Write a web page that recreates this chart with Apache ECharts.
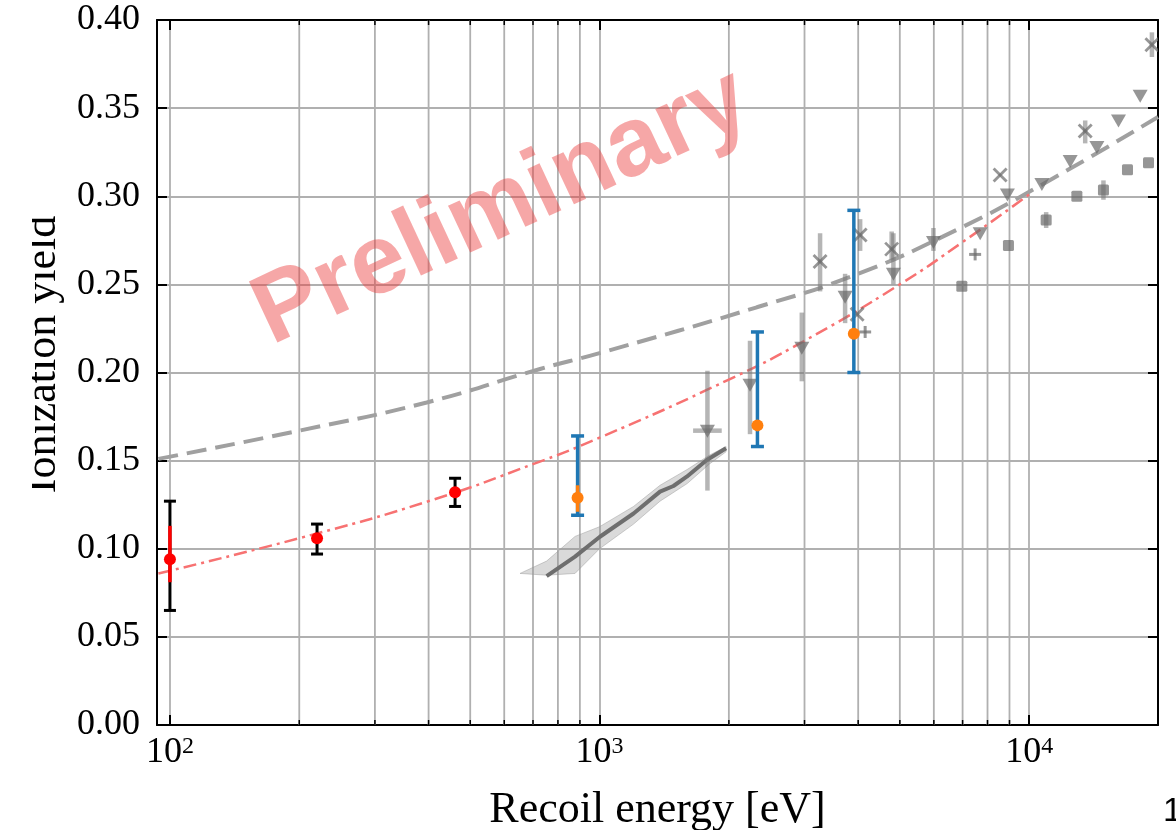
<!DOCTYPE html>
<html>
<head>
<meta charset="utf-8">
<title>Ionization yield</title>
<script src="https://cdn.jsdelivr.net/npm/echarts@6/dist/echarts.min.js"></script>
<style>
    html, body {margin: 0; padding: 0; background: #fff;}
    #echartdiv {width: 1176px; height: 830px;}
</style>
</head>
<body>
<div id="echartdiv"></div>
<script>
// axis range
var xMin = 93.3;
var xMax = 19950;
var minorTicks = [200, 300, 400, 500, 600, 700, 800, 900, 2000, 3000, 4000, 5000, 6000, 7000, 8000, 9000];

// this work, red points (black = total error, red = stat)
var redE = [100, 220, 461];
var redY = [0.094, 0.106, 0.132];
var redLo = [0.065, 0.097, 0.124];
var redHi = [0.127, 0.114, 0.140];
var redInE = [100];
var redInLo = [0.081];
var redInHi = [0.113];

// orange points, blue errors
var orgE = [889, 2331, 3908];
var orgY = [0.129, 0.170, 0.222];
var blueLo = [0.119, 0.158, 0.200];
var blueHi = [0.164, 0.223, 0.292];
var orgInE = [889];
var orgInLo = [0.121];
var orgInHi = [0.136];

// red dash-dot fit
var fitE = [94, 200, 400, 700, 1000, 2000, 3000, 5000, 7000, 10000];
var fitY = [0.086, 0.106, 0.127, 0.148, 0.163, 0.196, 0.218, 0.250, 0.274, 0.301];

// gray dashed model
var dashE = [94, 200, 396, 727, 1000, 2323, 4000, 6788, 10607, 19950];
var dashY = [0.151, 0.167, 0.183, 0.202, 0.211, 0.237, 0.256, 0.281, 0.306, 0.345];

// dark gray curve with band
var lineE = [753, 877, 1002, 1200, 1383, 1486, 1596, 1777, 1970];
var lineY = [0.0845, 0.0955, 0.1068, 0.120, 0.1324, 0.1356, 0.1409, 0.1504, 0.157];
var bandE = [653, 753, 877, 1000, 1200, 1383, 1600, 1800, 1970];
var bandLo = [0.086, 0.085, 0.086, 0.100, 0.114, 0.127, 0.137, 0.148, 0.155];
var bandHi = [0.086, 0.093, 0.107, 0.1125, 0.124, 0.136, 0.145, 0.153, 0.158];

// other measurements (gray)
var triE = [1783, 2240, 2957, 3729, 4831, 5988, 7692, 8900, 10706, 12460, 14378, 16143, 18132];
var triY = [0.167, 0.193, 0.214, 0.243, 0.256, 0.274, 0.279, 0.301, 0.307, 0.320, 0.328, 0.343, 0.357];
var triLo = [0.133, 0.165, 0.195, 0.228, 0.250, 0.269, null, null, null, null, null, null, null];
var triHi = [0.201, 0.218, 0.234, 0.256, 0.279, 0.282, null, null, null, null, null, null, null];
var triXLo = [1651];
var triXHi = [1925];

var crossE = [3261, 3977, 4042, 4786, 8560, 13504, 19310];
var crossY = [0.263, 0.233, 0.278, 0.270, 0.312, 0.337, 0.386];
var crossLo = [0.246, null, 0.269, 0.264, null, 0.330, 0.379];
var crossHi = [0.279, null, 0.287, 0.280, null, 0.343, 0.393];

var plusE = [4152, 7486];
var plusY = [0.223, 0.267];

var sqE = [6971, 8950, 10955, 12915, 14893, 16940, 18960];
var sqY = [0.249, 0.272, 0.2865, 0.300, 0.3035, 0.315, 0.319];
var sqLo = [null, null, 0.282, null, 0.298, null, null];
var sqHi = [null, null, 0.291, null, 0.309, null, null];

var serif = 'Liberation Serif';
var grayMk = 'rgba(105,105,105,0.7)';
var grayBar = 'rgba(120,120,120,0.55)';

function zip(a, b, c, d) {
    var out = [];
    for (var i = 0; i < a.length; i++) {
        var row = [a[i], b[i]];
        if (c) row.push(c[i]);
        if (d) row.push(d[i]);
        out.push(row);
    }
    return out;
}

function zipErr(e, lo, hi) {
    var out = [];
    for (var i = 0; i < e.length; i++) {
        if (lo[i] != null) out.push([e[i], lo[i], hi[i]]);
    }
    return out;
}

function seg(x1, y1, x2, y2, color, width) {
    return {type: 'line', shape: {x1: x1, y1: y1, x2: x2, y2: y2}, style: {stroke: color, lineWidth: width}};
}

function errBar(color, width, cap) {
    return function (params, api) {
        var a = api.coord([api.value(0), api.value(1)]);
        var b = api.coord([api.value(0), api.value(2)]);
        var kids = [seg(a[0], a[1], b[0], b[1], color, width)];
        if (cap > 0) {
            kids.push(seg(a[0] - cap / 2, a[1], a[0] + cap / 2, a[1], color, width));
            kids.push(seg(b[0] - cap / 2, b[1], b[0] + cap / 2, b[1], color, width));
        }
        return {type: 'group', children: kids};
    };
}

function grayMark(kind) {
    return function (params, api) {
        var p = api.coord([api.value(0), api.value(1)]);
        var x = p[0], y = p[1];
        if (kind == 'tri') {
            return {type: 'polygon', shape: {points: [[x - 7.5, y - 6], [x + 7.5, y - 6], [x, y + 7]]}, style: {fill: grayMk}};
        }
        if (kind == 'sq') {
            return {type: 'rect', shape: {x: x - 5.5, y: y - 5.5, width: 11, height: 11, r: 1.5}, style: {fill: grayMk}};
        }
        if (kind == 'cross') {
            return {type: 'group', children: [
                seg(x - 6.5, y - 6.5, x + 6.5, y + 6.5, grayMk, 2.8),
                seg(x - 6.5, y + 6.5, x + 6.5, y - 6.5, grayMk, 2.8)
            ]};
        }
        return {type: 'group', children: [
            seg(x - 6, y, x + 6, y, grayMk, 3),
            seg(x, y - 6, x, y + 6, grayMk, 3)
        ]};
    };
}

function customSeries(name, data, render, z) {
    return {
        name: name,
        type: 'custom',
        data: data,
        encode: {x: 0, y: 1},
        renderItem: render,
        clip: true,
        silent: true,
        z: z
    };
}

var dom = document.getElementById("echartdiv");
var myChart = echarts.init(dom);

var option = {
    animation: false,
    backgroundColor: '#fff',
    grid: {left: 157, right: 18, top: 20, bottom: 105, containLabel: false, outerBoundsMode: 'none'},
    xAxis: [
        {
            type: 'log',
            logBase: 10,
            min: xMin,
            max: xMax,
            name: 'Recoil energy [eV]',
            nameLocation: 'middle',
            nameGap: 63,
            nameTextStyle: {fontFamily: serif, fontSize: 44, color: '#000'},
            axisLine: {onZero: false, lineStyle: {color: '#000', width: 2}},
            axisTick: {inside: true, length: 10, lineStyle: {color: '#000', width: 2}},
            splitLine: {show: true, lineStyle: {color: '#b0b0b0', width: 1.8}},
            axisLabel: {
                margin: 10,
                showMinLabel: false,
                showMaxLabel: false,
                formatter: function (v) {
                    var p = Math.round(Math.log10(v));
                    if (Math.abs(Math.log10(v) - p) > 0.01) return '';
                    return '{b|10}{s|' + p + '}';
                },
                rich: {
                    b: {fontFamily: serif, fontSize: 36, color: '#000', verticalAlign: 'bottom'},
                    s: {fontFamily: serif, fontSize: 24, color: '#000', verticalAlign: 'top'}
                }
            }
        },
        {
            type: 'log',
            logBase: 10,
            min: xMin,
            max: xMax,
            position: 'top',
            axisLine: {onZero: false, lineStyle: {color: '#000', width: 2}},
            axisTick: {inside: true, length: 10, lineStyle: {color: '#000', width: 2}},
            splitLine: {show: false},
            axisLabel: {show: false}
        }
    ],
    yAxis: [
        {
            type: 'value',
            min: 0,
            max: 0.4,
            interval: 0.05,
            name: 'Ionization yield',
            nameLocation: 'middle',
            nameGap: 92,
            nameTextStyle: {fontFamily: serif, fontSize: 44, color: '#000', padding: [0, 0, 0, 36]},
            axisLine: {onZero: false, lineStyle: {color: '#000', width: 2}},
            axisTick: {inside: true, length: 10, lineStyle: {color: '#000', width: 2}},
            splitLine: {show: true, lineStyle: {color: '#b0b0b0', width: 1.8}},
            axisLabel: {
                margin: 17,
                fontFamily: serif,
                fontSize: 36,
                color: '#000',
                formatter: function (v) {
                    return v.toFixed(2);
                }
            }
        },
        {
            type: 'value',
            min: 0,
            max: 0.4,
            interval: 0.05,
            position: 'right',
            axisLine: {onZero: false, lineStyle: {color: '#000', width: 2}},
            axisTick: {inside: true, length: 10, lineStyle: {color: '#000', width: 2}},
            splitLine: {show: false},
            axisLabel: {show: false}
        }
    ],
    graphic: [
        {
            type: 'text',
            x: 502,
            y: 208,
            rotation: 25 * Math.PI / 180,
            z: 50,
            silent: true,
            style: {
                text: 'Preliminary',
                fontFamily: 'Liberation Sans',
                fontWeight: 'bold',
                fontSize: 98,
                fill: 'rgba(235,60,60,0.45)',
                align: 'center',
                verticalAlign: 'middle'
            }
        },
        {
            type: 'text',
            x: 1163,
            y: 829,
            style: {text: '1', fontFamily: 'Liberation Sans', fontSize: 34, fill: '#000', align: 'left', verticalAlign: 'bottom'}
        },
        {
            type: 'rect',
            z: 100,
            shape: {x: 0, y: 0, width: 32, height: 830},
            style: {fill: '#fff'}
        }
    ],
    series: [
        // minor grid lines and minor ticks of the log axis
        customSeries('minor', minorTicks.map(function (v) { return [v, 0]; }), function (params, api) {
            var b = api.coord([api.value(0), 0]);
            var t = api.coord([api.value(0), 0.4]);
            return {type: 'group', children: [
                seg(b[0], b[1], t[0], t[1], '#b0b0b0', 1.8),
                seg(b[0], b[1], b[0], b[1] - 5, '#000', 1.5),
                seg(t[0], t[1], t[0], t[1] + 5, '#000', 1.5)
            ]};
        }, 1),
        customSeries('band', zip(bandE, bandLo), function (params, api) {
            if (params.dataIndex > 0) return;
            var pts = [];
            for (var i = 0; i < bandE.length; i++) pts.push(api.coord([bandE[i], bandHi[i]]));
            for (var j = bandE.length - 1; j >= 0; j--) pts.push(api.coord([bandE[j], bandLo[j]]));
            return {type: 'polygon', shape: {points: pts}, style: {fill: 'rgba(150,150,150,0.35)', stroke: 'rgba(150,150,150,0.45)', lineWidth: 1}};
        }, 2),
        {
            name: 'curve',
            type: 'line',
            data: zip(lineE, lineY),
            showSymbol: false,
            lineStyle: {color: '#6e6e6e', width: 4},
            z: 3
        },
        {
            name: 'model',
            type: 'line',
            data: zip(dashE, dashY),
            smooth: true,
            showSymbol: false,
            lineStyle: {color: '#a0a0a0', width: 4, type: [20, 9]},
            z: 3
        },
        {
            name: 'fit',
            type: 'line',
            data: zip(fitE, fitY),
            smooth: true,
            showSymbol: false,
            lineStyle: {color: '#f77272', width: 2.5, type: [13, 5, 3, 5]},
            z: 3
        },
        customSeries('gray err', zipErr(triE, triLo, triHi).concat(zipErr(crossE, crossLo, crossHi), zipErr(sqE, sqLo, sqHi)), errBar(grayBar, 4.5, 0), 4),
        customSeries('gray xerr', zip(triXLo, [0.167], triXHi), function (params, api) {
            var a = api.coord([api.value(0), api.value(1)]);
            var b = api.coord([api.value(2), api.value(1)]);
            return seg(a[0], a[1], b[0], b[1], grayBar, 4.5);
        }, 4),
        customSeries('tri', zip(triE, triY), grayMark('tri'), 5),
        customSeries('cross', zip(crossE, crossY), grayMark('cross'), 5),
        customSeries('plus', zip(plusE, plusY), grayMark('plus'), 5),
        customSeries('sq', zip(sqE, sqY), grayMark('sq'), 5),
        customSeries('blue err', zip(orgE, blueLo, blueHi), errBar('#1f77b4', 3.5, 13), 6),
        customSeries('orange err', zip(orgInE, orgInLo, orgInHi), errBar('#ff7f0e', 3.5, 0), 7),
        customSeries('black err', zip(redE, redLo, redHi), errBar('#000', 3, 12), 6),
        customSeries('red err', zip(redInE, redInLo, redInHi), errBar('#ff0000', 3.5, 0), 7),
        {
            name: 'this work',
            type: 'scatter',
            data: zip(redE, redY),
            symbolSize: 12,
            itemStyle: {color: '#ff0000', opacity: 1},
            z: 8
        },
        {
            name: 'this work 2',
            type: 'scatter',
            data: zip(orgE, orgY),
            symbolSize: 12,
            itemStyle: {color: '#ff7f0e', opacity: 1},
            z: 8
        }
    ]
};

myChart.setOption(option);
</script>
</body>
</html>
